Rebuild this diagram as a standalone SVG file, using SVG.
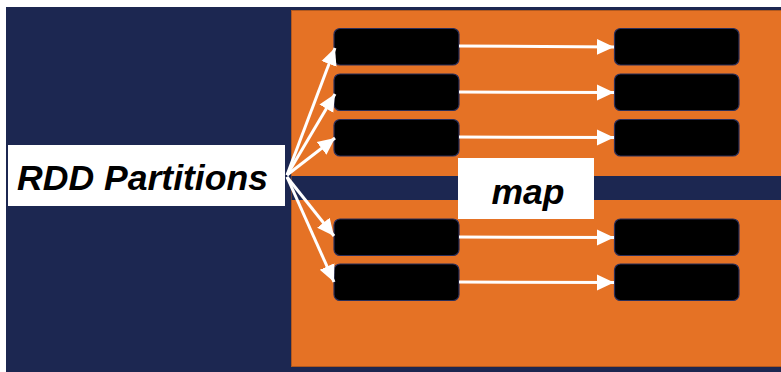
<svg xmlns="http://www.w3.org/2000/svg" width="781" height="372" viewBox="0 0 781 372">
  <style>
    .navy { fill: #1c2751; }
    .orange { fill: #e57225; stroke: #b0581f; stroke-width: 1; }
    .part { fill: #000000; stroke: #2b2f5a; stroke-width: 1.2; }
    .label-box { fill: #ffffff; }
    .label { font-family: "Liberation Sans", Arial, sans-serif; font-weight: bold; font-style: italic; font-size: 35.5px; fill: #000000; }
    .arrow { stroke: #ffffff; stroke-width: 3; fill: none; marker-end: url(#head); }
  </style>
  <defs>
    <marker id="head" markerUnits="userSpaceOnUse" markerWidth="18" markerHeight="18" viewBox="0 0 18 18" refX="17" refY="9" orient="auto">
      <path d="M0,1 L17,9 L0,17 Z" fill="#ffffff"/>
    </marker>
  </defs>

  <!-- backdrop -->
  <rect x="0" y="0" width="781" height="372" fill="#ffffff"/>
  <rect class="navy" x="6" y="7" width="775" height="365"/>
  <rect class="orange" x="291.5" y="10.5" width="490" height="356"/>
  <rect class="navy" x="291.5" y="176" width="490" height="24"/>

  <!-- source label -->
  <g id="rdd-partitions">
    <rect class="label-box" x="8" y="145" width="277" height="61"/>
    <text class="label" x="17" y="190" textLength="251" lengthAdjust="spacingAndGlyphs">RDD Partitions</text>
  </g>

  <!-- operation label -->
  <g id="map">
    <rect class="label-box" x="458" y="158" width="136" height="61"/>
    <text class="label" x="528" y="204" text-anchor="middle">map</text>
  </g>

  <!-- input partitions -->
  <g id="in-1"><rect class="part" x="334" y="28.5" width="125" height="36.5" rx="6"/></g>
  <g id="in-2"><rect class="part" x="334" y="74" width="125" height="36.5" rx="6"/></g>
  <g id="in-3"><rect class="part" x="334" y="119.5" width="125" height="36.5" rx="6"/></g>
  <g id="in-4"><rect class="part" x="334" y="219" width="125" height="36.5" rx="6"/></g>
  <g id="in-5"><rect class="part" x="334" y="264" width="125" height="36.5" rx="6"/></g>

  <!-- output partitions -->
  <g id="out-1"><rect class="part" x="614.5" y="28.5" width="124.5" height="36.5" rx="6"/></g>
  <g id="out-2"><rect class="part" x="614.5" y="74" width="124.5" height="36.5" rx="6"/></g>
  <g id="out-3"><rect class="part" x="614.5" y="119.5" width="124.5" height="36.5" rx="6"/></g>
  <g id="out-4"><rect class="part" x="614.5" y="219" width="124.5" height="36.5" rx="6"/></g>
  <g id="out-5"><rect class="part" x="614.5" y="264" width="124.5" height="36.5" rx="6"/></g>

  <!-- connectors -->
  <g id="connectors">
    <line class="arrow" x1="287" y1="175" x2="335" y2="48"/>
    <line class="arrow" x1="287" y1="175" x2="335" y2="94"/>
    <line class="arrow" x1="287" y1="175" x2="335" y2="138"/>
    <line class="arrow" x1="287" y1="177" x2="334" y2="236"/>
    <line class="arrow" x1="287" y1="177" x2="334" y2="282"/>

    <line class="arrow" x1="459" y1="46" x2="614" y2="47"/>
    <line class="arrow" x1="459" y1="92" x2="614" y2="92.5"/>
    <line class="arrow" x1="459" y1="137" x2="614" y2="137.5"/>
    <line class="arrow" x1="459" y1="237" x2="614" y2="237.5"/>
    <line class="arrow" x1="459" y1="282" x2="614" y2="282.5"/>
  </g>
</svg>
